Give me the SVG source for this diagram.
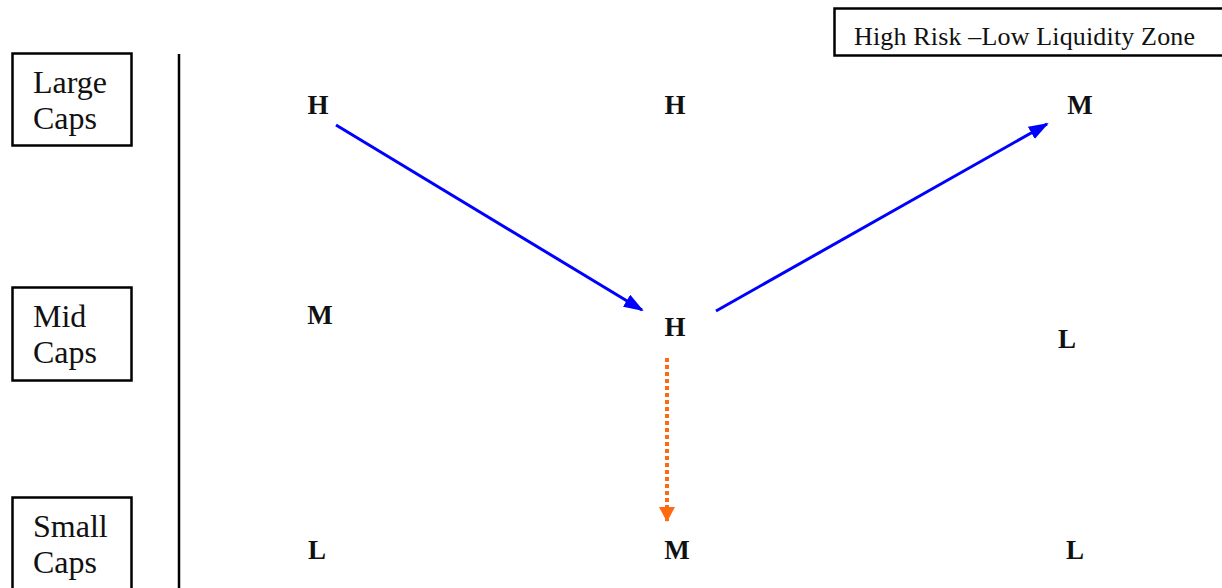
<svg xmlns="http://www.w3.org/2000/svg" width="1222" height="588" viewBox="0 0 1222 588">
<style>
.box{fill:#fff;stroke:#000;stroke-width:2.5}
.lbl{font-family:"Liberation Serif",serif;font-size:32px;fill:#111}
.g{font-family:"Liberation Serif",serif;font-size:27px;font-weight:bold;fill:#111;text-anchor:middle}
.blue{stroke:#0000ff;stroke-width:3;fill:none}
.orange{stroke:#ff6a10;stroke-width:4;stroke-dasharray:4 3;fill:none}
</style>
<defs>
<marker id="ab" markerWidth="20" markerHeight="14" refX="18" refY="7" orient="auto" markerUnits="userSpaceOnUse"><path d="M0,0 L20,7 L0,14 Z" fill="#0000ff"/></marker>
<marker id="ao" markerWidth="15" markerHeight="16" refX="14" refY="8" orient="auto" markerUnits="userSpaceOnUse"><path d="M0,0 L15,8 L0,16 Z" fill="#ff6a10"/></marker>
</defs>
<rect width="1222" height="588" fill="#fff"/>
<g id="axis"><line x1="179" y1="54" x2="179" y2="588" stroke="#000" stroke-width="2.5"/></g>
<g id="large-caps"><rect class="box" x="12.5" y="53.5" width="119" height="92"/><text class="lbl" x="33" y="93">Large</text><text class="lbl" x="33" y="129">Caps</text></g>
<g id="mid-caps"><rect class="box" x="12.5" y="287.5" width="119" height="93"/><text class="lbl" x="33" y="327">Mid</text><text class="lbl" x="33" y="363">Caps</text></g>
<g id="small-caps"><rect class="box" x="12.5" y="497.5" width="119" height="100"/><text class="lbl" x="33" y="537">Small</text><text class="lbl" x="33" y="573">Caps</text></g>
<g id="zone"><rect class="box" x="834.5" y="8.5" width="400" height="47"/><text x="854" y="45" font-family="Liberation Serif,serif" font-size="26" fill="#111" textLength="341">High Risk –Low Liquidity Zone</text></g>
<g id="n-lh"><text class="g" x="318" y="114">H</text></g>
<g id="n-lh2"><text class="g" x="675" y="114">H</text></g>
<g id="n-lm"><text class="g" x="1080" y="114">M</text></g>
<g id="n-mm"><text class="g" x="320" y="324">M</text></g>
<g id="n-mh"><text class="g" x="675" y="336">H</text></g>
<g id="n-ml"><text class="g" x="1067" y="348">L</text></g>
<g id="n-sl"><text class="g" x="317" y="559">L</text></g>
<g id="n-sm"><text class="g" x="677" y="559">M</text></g>
<g id="n-sl2"><text class="g" x="1075" y="559">L</text></g>
<g id="connectors">
<line class="blue" x1="336" y1="125" x2="642" y2="310" marker-end="url(#ab)"/>
<line class="blue" x1="716" y1="311" x2="1047" y2="124" marker-end="url(#ab)"/>
<line class="orange" x1="667" y1="358" x2="667" y2="521" marker-end="url(#ao)"/>
</g>
</svg>
